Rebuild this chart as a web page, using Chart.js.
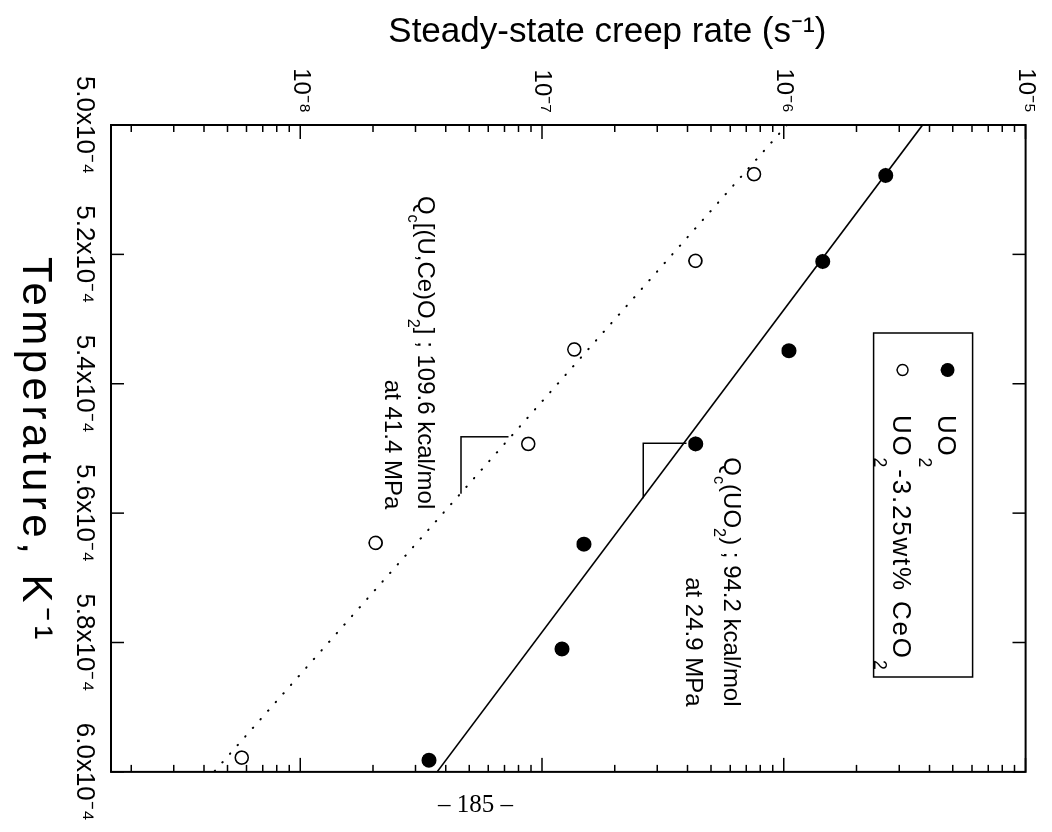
<!DOCTYPE html>
<html>
<head>
<meta charset="utf-8">
<script src="https://cdn.jsdelivr.net/npm/chart.js@4.4.1/dist/chart.umd.min.js"></script>
<style>
  html, body { margin: 0; background: #fff; overflow: hidden; width: 1052px; height: 832px; }
  /* the figure is printed sideways: draw it upright, then turn it 90deg clockwise */
  #wrap { position: absolute; left: 110px; top: -110px; width: 832px; height: 1052px; transform: rotate(90deg); }
  #page { position: absolute; left: 438px; top: 790px; font: 25px "Liberation Serif", "Times New Roman", serif; color: #000; }
</style>
</head>
<body>
<div id="wrap"><canvas id="chart" width="832" height="1052"></canvas></div>
<div id="page">– 185 –</div>
<script>
// data (temperature in K^-1, creep rate in s^-1)
const uo2Temp = [5.078e-4, 5.211e-4, 5.349e-4, 5.493e-4, 5.648e-4, 5.810e-4, 5.982e-4];
const uo2Rate = [2.64e-6, 1.45e-6, 1.05e-6, 4.32e-7, 1.49e-7, 1.21e-7, 3.41e-8];
const ceTemp = [5.076e-4, 5.210e-4, 5.347e-4, 5.493e-4, 5.646e-4, 5.978e-4];
const ceRate = [7.53e-7, 4.31e-7, 1.36e-7, 8.77e-8, 2.05e-8, 5.73e-9];

// fitted lines
const fitTemp = [5.0e-4, 6.0e-4];
const uo2FitRate = [3.75e-6, 3.68e-8];
const ceFitRate = [1.03e-6, 4.40e-9];

// slope triangles
const uo2SlopeTemp = [5.577e-4, 5.492e-4, 5.492e-4];
const uo2SlopeRate = [2.62e-7, 2.62e-7, 3.96e-7];
const ceSlopeTemp = [5.570e-4, 5.482e-4, 5.482e-4];
const ceSlopeRate = [4.62e-8, 4.62e-8, 7.26e-8];

const xTickValues = [5.0e-4, 5.2e-4, 5.4e-4, 5.6e-4, 5.8e-4, 6.0e-4];
const xTickLabels = ['5.0x10⁻⁴', '5.2x10⁻⁴', '5.4x10⁻⁴', '5.6x10⁻⁴', '5.8x10⁻⁴', '6.0x10⁻⁴'];
const yTickValues = [1e-8, 1e-7, 1e-6, 1e-5];
const yTickLabels = ['10⁻⁸', '10⁻⁷', '10⁻⁶', '10⁻⁵'];

const seriesNames = ['UO_2', 'UO_2-3.25wt% CeO_2'];
const yTitle = 'Steady-state creep rate (s⁻¹)';
const xTitle = 'Temperature, K⁻¹';

// text notes: "_x" puts x in subscript
const notes = [
  { lines: ['Q_c[(U,Ce)O_2] ; 109.6 kcal/mol', 'at 41.4 MPa'], t: 5.594e-4, r: 3.33e-8, gap: 33 },
  { lines: ['Q_c(UO_2) ; 94.2 kcal/mol', 'at 24.9 MPa'], t: 5.899e-4, r: 6.15e-7, gap: 38 }
];

const FONT = '"Liberation Sans", Arial, Helvetica, sans-serif';
const pts = (xs, ys) => xs.map((x, i) => ({ x, y: ys[i] }));

function parseRich(s) {
  const parts = [];
  let buf = '';
  for (let i = 0; i < s.length; i++) {
    if (s[i] === '_' && i + 1 < s.length) {
      if (buf) parts.push({ t: buf });
      parts.push({ t: s[i + 1], sub: true });
      buf = '';
      i++;
    } else buf += s[i];
  }
  if (buf) parts.push({ t: buf });
  return parts;
}

// draws text with subscripts; y is the visual centre of the capitals
function richText(ctx, s, x, y, size, align, drop, spacing) {
  const parts = parseRich(s);
  const subSize = size * 0.68;
  ctx.letterSpacing = (spacing || 0) + 'px';
  let w = 0;
  parts.forEach(p => {
    ctx.font = (p.sub ? subSize : size) + 'px ' + FONT;
    p.w = ctx.measureText(p.t).width;
    w += p.w;
  });
  let cx = align === 'right' ? x - w : x;
  const base = y + size * 0.36;
  ctx.textBaseline = 'alphabetic';
  ctx.textAlign = 'left';
  parts.forEach(p => {
    ctx.font = (p.sub ? subSize : size) + 'px ' + FONT;
    ctx.fillText(p.t, cx, p.sub ? base + size * drop : base);
    cx += p.w;
  });
  ctx.letterSpacing = '0px';
}

const overlay = {
  id: 'overlay',
  afterDatasetsDraw(chart) {
    const { ctx, chartArea: a, scales: { x, y } } = chart;
    ctx.save();
    ctx.strokeStyle = '#000';
    ctx.fillStyle = '#000';

    // frame
    ctx.lineWidth = 2;
    ctx.strokeRect(a.left, a.top, a.right - a.left, a.bottom - a.top);

    // inward ticks on all four sides
    ctx.lineWidth = 1.5;
    ctx.beginPath();
    xTickValues.forEach(v => {
      const px = x.getPixelForValue(v);
      ctx.moveTo(px, a.bottom); ctx.lineTo(px, a.bottom - 13);
      ctx.moveTo(px, a.top); ctx.lineTo(px, a.top + 13);
    });
    for (let e = -10; e <= -5; e++) {
      for (let m = 1; m <= 9; m++) {
        const v = m * Math.pow(10, e);
        if (v < y.min || v > y.max) continue;
        const py = y.getPixelForValue(v);
        const len = m === 1 ? 14 : 7;
        ctx.moveTo(a.left, py); ctx.lineTo(a.left + len, py);
        ctx.moveTo(a.right, py); ctx.lineTo(a.right - len, py);
      }
    }
    ctx.stroke();

    // axis titles (the y one sits off-centre as in the print)
    ctx.save();
    ctx.translate(32, (a.top + a.bottom) / 2 - 39);
    ctx.rotate(-Math.PI / 2);
    ctx.font = '35px ' + FONT;
    ctx.textAlign = 'center';
    ctx.textBaseline = 'middle';
    ctx.fillText(yTitle, 0, 0);
    ctx.restore();

    ctx.font = '42px ' + FONT;
    ctx.letterSpacing = '4.5px';
    ctx.textAlign = 'center';
    ctx.textBaseline = 'middle';
    ctx.fillText(xTitle, (a.left + a.right) / 2 + 2, 1017);
    ctx.letterSpacing = '0px';

    // legend box
    const lx = a.left + 208, ly = a.top + 53;
    ctx.lineWidth = 1.5;
    ctx.strokeRect(lx, ly, 344, 99);
    seriesNames.forEach((name, i) => {
      const my = ly + 25 + i * 45;
      ctx.beginPath();
      if (i === 0) {
        ctx.arc(lx + 37, my, 7, 0, Math.PI * 2);
        ctx.fill();
      } else {
        ctx.lineWidth = 1.5;
        ctx.arc(lx + 37, my, 5.5, 0, Math.PI * 2);
        ctx.stroke();
      }
      richText(ctx, name, lx + 82, my, 26, 'left', 0.74, 1.8);
    });

    // notes
    notes.forEach(n => {
      const px = x.getPixelForValue(n.t);
      const py = y.getPixelForValue(n.r);
      n.lines.forEach((line, i) => richText(ctx, line, px, py + i * n.gap, 24, 'right', 0.42, 0));
    });
    ctx.restore();
  }
};

new Chart(document.getElementById('chart'), {
  type: 'scatter',
  data: {
    datasets: [
      {
        label: 'UO2',
        data: pts(uo2Temp, uo2Rate),
        pointStyle: 'circle',
        pointRadius: 7.5,
        backgroundColor: '#000',
        borderColor: '#000',
        borderWidth: 0
      },
      {
        label: 'UO2-3.25wt% CeO2',
        data: pts(ceTemp, ceRate),
        pointStyle: 'circle',
        pointRadius: 6.5,
        backgroundColor: '#fff',
        borderColor: '#000',
        borderWidth: 1.6
      },
      {
        type: 'line',
        label: 'UO2 fit',
        data: pts(fitTemp, uo2FitRate),
        borderColor: '#000',
        borderWidth: 1.6,
        pointRadius: 0,
        fill: false
      },
      {
        type: 'line',
        label: 'CeO2 fit',
        data: pts(fitTemp, ceFitRate),
        borderColor: '#000',
        borderWidth: 2,
        borderDash: [0.5, 11],
        borderCapStyle: 'round',
        pointRadius: 0,
        fill: false
      },
      {
        type: 'line',
        label: 'UO2 slope',
        data: pts(uo2SlopeTemp, uo2SlopeRate),
        borderColor: '#000',
        borderWidth: 1.5,
        pointRadius: 0,
        fill: false
      },
      {
        type: 'line',
        label: 'CeO2 slope',
        data: pts(ceSlopeTemp, ceSlopeRate),
        borderColor: '#000',
        borderWidth: 1.5,
        pointRadius: 0,
        fill: false
      }
    ]
  },
  options: {
    responsive: false,
    animation: false,
    devicePixelRatio: 1,
    layout: { padding: { top: 22, right: 54, left: 0, bottom: 0 } },
    plugins: { legend: { display: false }, tooltip: { enabled: false } },
    scales: {
      x: {
        type: 'linear',
        min: 5.0e-4,
        max: 6.0e-4,
        afterBuildTicks: s => { s.ticks = xTickValues.map(v => ({ value: v })); },
        afterFit: s => { s.height = 111; },
        grid: { display: false, drawTicks: false },
        border: { display: false },
        ticks: {
          autoSkip: false,
          maxRotation: 0,
          padding: 11,
          color: '#000',
          font: { family: FONT, size: 26 },
          callback: (v, i) => xTickLabels[i]
        }
      },
      y: {
        type: 'logarithmic',
        min: 1.65e-9,
        max: 1e-5,
        afterBuildTicks: s => { s.ticks = yTickValues.map(v => ({ value: v })); },
        afterFit: s => { s.width = 125; },
        grid: { display: false, drawTicks: false },
        border: { display: false },
        ticks: {
          autoSkip: false,
          padding: 12,
          color: '#000',
          font: { family: FONT, size: 24 },
          callback: (v, i) => yTickLabels[i]
        }
      }
    }
  },
  plugins: [overlay]
});
</script>
</body>
</html>
